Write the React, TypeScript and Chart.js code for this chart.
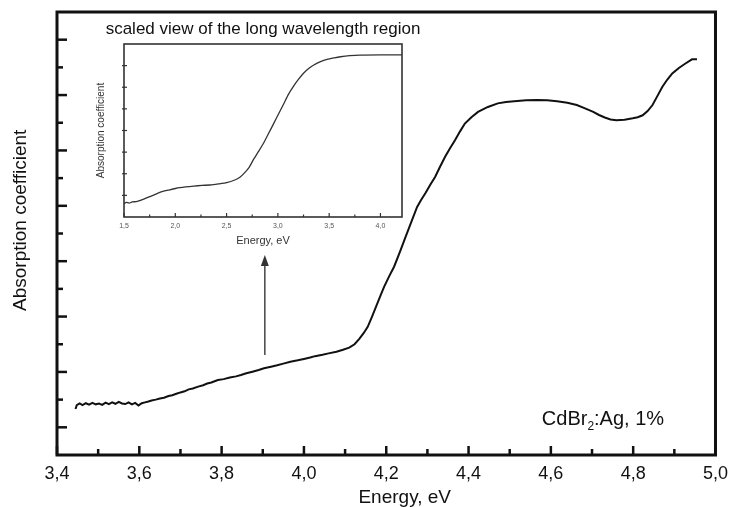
import React, { useEffect, useRef } from 'react';
import { Chart, registerables } from 'chart.js';

Chart.register(...registerables);

const FONT = '"Liberation Sans", Arial, Helvetica, sans-serif';

// ---------- main spectrum ----------
const mainEnergy = [
  3.445, 3.448, 3.455, 3.462, 3.47, 3.478, 3.486, 3.494, 3.502, 3.51, 3.518, 3.526, 3.534, 3.542,
  3.55, 3.558, 3.566, 3.574, 3.582, 3.59, 3.598, 3.606, 3.614, 3.622, 3.63, 3.64, 3.65, 3.66,
  3.671, 3.68, 3.69, 3.7, 3.71, 3.72, 3.73, 3.743, 3.755, 3.765, 3.775, 3.791, 3.805, 3.82,
  3.835, 3.847, 3.86, 3.875, 3.89, 3.903, 3.92, 3.935, 3.95, 3.967, 3.985, 4.0, 4.015, 4.027,
  4.045, 4.06, 4.079, 4.095, 4.11, 4.123, 4.135, 4.145, 4.155, 4.165, 4.175, 4.185, 4.195,
  4.207, 4.219, 4.233, 4.247, 4.261, 4.275, 4.285, 4.295, 4.307, 4.319, 4.331, 4.343, 4.355,
  4.367, 4.379, 4.391, 4.407, 4.423, 4.447, 4.471, 4.491, 4.511, 4.54, 4.567, 4.591, 4.615,
  4.64, 4.663, 4.683, 4.703, 4.717, 4.731, 4.745, 4.759, 4.779, 4.799, 4.811, 4.823, 4.835,
  4.847, 4.859, 4.871, 4.883, 4.895, 4.911, 4.927, 4.943, 4.955,
];
const mainAbsorption = [
  1.66, 1.8, 1.86, 1.8, 1.87, 1.82, 1.88, 1.83, 1.86, 1.81, 1.89, 1.84, 1.9, 1.85,
  1.92, 1.86, 1.84, 1.9, 1.83, 1.88, 1.79, 1.87, 1.9, 1.93, 1.97, 2.0, 2.04, 2.07,
  2.13, 2.16, 2.21, 2.26, 2.3, 2.37, 2.4, 2.47, 2.52, 2.58, 2.62, 2.71, 2.74, 2.8,
  2.84, 2.89, 2.95, 3.01, 3.07, 3.13, 3.19, 3.24, 3.3, 3.37, 3.42, 3.47, 3.52, 3.57,
  3.62, 3.67, 3.73, 3.8, 3.88, 4.0, 4.2, 4.4, 4.63, 4.98, 5.35, 5.72, 6.08,
  6.45, 6.8, 7.33, 7.88, 8.42, 8.96, 9.22, 9.45, 9.76, 10.05, 10.42, 10.77, 11.08,
  11.37, 11.68, 11.97, 12.2, 12.39, 12.57, 12.7, 12.75, 12.78, 12.81, 12.82, 12.81, 12.78,
  12.72, 12.64, 12.52, 12.39, 12.28, 12.19, 12.12, 12.09, 12.11, 12.16, 12.2, 12.27, 12.42,
  12.64, 12.97, 13.3, 13.56, 13.78, 13.98, 14.14, 14.29, 14.29,
];
const mainXTicks = [3.4, 3.6, 3.8, 4.0, 4.2, 4.4, 4.6, 4.8, 5.0];
const mainXMinor = [3.5, 3.7, 3.9, 4.1, 4.3, 4.5, 4.7, 4.9];
const mainYMajor = [1, 3, 5, 7, 9, 11, 13, 15];
const mainYMinor = [2, 4, 6, 8, 10, 12, 14];

// ---------- inset (long wavelength region) ----------
const insetEnergy = [
  1.5, 1.52, 1.55, 1.58, 1.62, 1.68, 1.75, 1.81, 1.87, 1.93, 2.01, 2.1, 2.18, 2.26, 2.34,
  2.42, 2.5, 2.58, 2.63, 2.67, 2.72, 2.76, 2.81, 2.86, 2.91, 2.96, 3.01, 3.06, 3.1, 3.15,
  3.2, 3.25, 3.3, 3.35, 3.41, 3.48, 3.55, 3.61, 3.7, 3.8, 4.0, 4.21,
];
const insetAbsorption = [
  0.6, 0.68, 0.64, 0.7, 0.71, 0.8, 0.94, 1.06, 1.17, 1.24, 1.33, 1.39, 1.43, 1.46, 1.48,
  1.53, 1.59, 1.71, 1.84, 2.02, 2.3, 2.64, 3.02, 3.41, 3.87, 4.33, 4.8, 5.26, 5.65, 6.03,
  6.36, 6.65, 6.87, 7.03, 7.17, 7.29, 7.36, 7.41, 7.46, 7.49, 7.5, 7.5,
];
const insetXTicks = [1.5, 2.0, 2.5, 3.0, 3.5, 4.0];
const insetXMinor = [1.75, 2.25, 2.75, 3.25, 3.75];
const insetYTicks = [1, 2, 3, 4, 5, 6, 7];

// ---------- annotations ----------
const sampleLabelParts = ['CdBr', '2', ':Ag, 1%'];
const sampleLabelAt = { x: 4.578, y: 1.08 };
const arrowAt = { x: 3.905, yFrom: 3.61, yTo: 7.22 };
const insetTitle = 'scaled view of the long wavelength region';

const commaFmt = (v: any) => Number(v).toFixed(1).replace('.', ',');

export default function App() {
  const mainRef = useRef<HTMLCanvasElement>(null);
  const insetRef = useRef<HTMLCanvasElement>(null);

  useEffect(() => {
    const mainPlugin = {
      id: 'mainFrame',
      afterDraw(chart: any) {
        const { ctx, chartArea: a, scales } = chart;
        const xs = scales.x;
        const ys = scales.y;
        ctx.save();
        ctx.strokeStyle = '#111';
        ctx.lineCap = 'butt';
        // ticks (inward)
        ctx.lineWidth = 2.5;
        mainXTicks.forEach((v) => {
          const p = xs.getPixelForValue(v);
          ctx.beginPath(); ctx.moveTo(p, a.bottom); ctx.lineTo(p, a.bottom - 9); ctx.stroke();
        });
        mainXMinor.forEach((v) => {
          const p = xs.getPixelForValue(v);
          ctx.beginPath(); ctx.moveTo(p, a.bottom); ctx.lineTo(p, a.bottom - 6); ctx.stroke();
        });
        mainYMajor.forEach((v) => {
          const p = ys.getPixelForValue(v);
          ctx.beginPath(); ctx.moveTo(a.left, p); ctx.lineTo(a.left + 10, p); ctx.stroke();
        });
        mainYMinor.forEach((v) => {
          const p = ys.getPixelForValue(v);
          ctx.beginPath(); ctx.moveTo(a.left, p); ctx.lineTo(a.left + 6, p); ctx.stroke();
        });
        // frame
        ctx.lineWidth = 3;
        ctx.strokeRect(a.left, a.top, a.right - a.left, a.bottom - a.top);

        // arrow
        const ax = xs.getPixelForValue(arrowAt.x);
        const ay0 = ys.getPixelForValue(arrowAt.yFrom);
        const ay1 = ys.getPixelForValue(arrowAt.yTo);
        ctx.strokeStyle = '#444';
        ctx.fillStyle = '#333';
        ctx.lineWidth = 1.5;
        ctx.beginPath(); ctx.moveTo(ax, ay0); ctx.lineTo(ax, ay1 + 9); ctx.stroke();
        ctx.beginPath();
        ctx.moveTo(ax, ay1);
        ctx.lineTo(ax - 4, ay1 + 11);
        ctx.lineTo(ax + 4, ay1 + 11);
        ctx.closePath();
        ctx.fill();

        // sample label
        const lx = xs.getPixelForValue(sampleLabelAt.x);
        const ly = ys.getPixelForValue(sampleLabelAt.y);
        ctx.fillStyle = '#111';
        ctx.textBaseline = 'alphabetic';
        ctx.textAlign = 'left';
        ctx.font = `20px ${FONT}`;
        ctx.fillText(sampleLabelParts[0], lx, ly);
        let cx = lx + ctx.measureText(sampleLabelParts[0]).width;
        ctx.font = `12px ${FONT}`;
        ctx.fillText(sampleLabelParts[1], cx, ly + 5);
        cx += ctx.measureText(sampleLabelParts[1]).width;
        ctx.font = `20px ${FONT}`;
        ctx.fillText(sampleLabelParts[2], cx, ly);
        ctx.restore();
      },
    };

    const main = new Chart(mainRef.current as HTMLCanvasElement, {
      type: 'line',
      data: {
        datasets: [
          {
            data: mainEnergy.map((x, i) => ({ x, y: mainAbsorption[i] })),
            borderColor: '#111',
            borderWidth: 2,
            pointRadius: 0,
            tension: 0,
            fill: false,
          },
        ],
      },
      options: {
        animation: false,
        responsive: false,
        devicePixelRatio: 1,
        layout: { padding: { left: 0, top: 12, right: 13, bottom: 0 } },
        plugins: { legend: { display: false }, tooltip: { enabled: false }, title: { display: false } },
        scales: {
          x: {
            type: 'linear',
            min: 3.4,
            max: 5.0,
            afterBuildTicks: (s: any) => {
              s.ticks = mainXTicks.map((v) => ({ value: v }));
            },
            afterFit: (s: any) => {
              s.height = 52;
            },
            ticks: {
              autoSkip: false,
              maxRotation: 0,
              padding: 8,
              color: '#111',
              font: { family: FONT, size: 18 },
              callback: commaFmt,
            },
            grid: { display: false, drawTicks: false },
            border: { display: false },
            title: {
              display: true,
              text: '       Energy, eV',
              color: '#111',
              font: { family: FONT, size: 19, lineHeight: 0.95 },
              padding: 0,
            },
          },
          y: {
            type: 'linear',
            min: 0,
            max: 16,
            afterFit: (s: any) => {
              s.width = 57;
            },
            ticks: { display: false },
            grid: { display: false, drawTicks: false },
            border: { display: false },
            title: {
              display: true,
              text: '     Absorption coefficient',
              color: '#111',
              font: { family: FONT, size: 19 },
              padding: { top: 9.6, bottom: 0 },
            },
          },
        },
      },
      plugins: [mainPlugin],
    } as any);

    const insetPlugin = {
      id: 'insetFrame',
      afterDraw(chart: any) {
        const { ctx, chartArea: a, scales } = chart;
        const xs = scales.x;
        const ys = scales.y;
        ctx.save();
        ctx.strokeStyle = '#333';
        ctx.lineWidth = 1.2;
        insetXTicks.forEach((v) => {
          const p = xs.getPixelForValue(v);
          ctx.beginPath(); ctx.moveTo(p, a.bottom); ctx.lineTo(p, a.bottom - 4); ctx.stroke();
        });
        insetXMinor.forEach((v) => {
          const p = xs.getPixelForValue(v);
          ctx.beginPath(); ctx.moveTo(p, a.bottom); ctx.lineTo(p, a.bottom - 2.5); ctx.stroke();
        });
        insetYTicks.forEach((v) => {
          const p = ys.getPixelForValue(v);
          ctx.beginPath(); ctx.moveTo(a.left - 2, p); ctx.lineTo(a.left + 3, p); ctx.stroke();
        });
        ctx.lineWidth = 1.6;
        ctx.strokeRect(a.left, a.top, a.right - a.left, a.bottom - a.top);

        ctx.fillStyle = '#111';
        ctx.font = `17px ${FONT}`;
        ctx.textAlign = 'center';
        ctx.textBaseline = 'middle';
        ctx.fillText(insetTitle, (a.left + a.right) / 2, 15);
        ctx.restore();
      },
    };

    const inset = new Chart(insetRef.current as HTMLCanvasElement, {
      type: 'line',
      data: {
        datasets: [
          {
            data: insetEnergy.map((x, i) => ({ x, y: insetAbsorption[i] })),
            borderColor: '#333',
            borderWidth: 1.3,
            pointRadius: 0,
            tension: 0.2,
            fill: false,
          },
        ],
      },
      options: {
        animation: false,
        responsive: false,
        devicePixelRatio: 1,
        layout: { padding: { left: 0, top: 30, right: 34, bottom: 0 } },
        plugins: { legend: { display: false }, tooltip: { enabled: false }, title: { display: false } },
        scales: {
          x: {
            type: 'linear',
            min: 1.5,
            max: 4.21,
            afterBuildTicks: (s: any) => {
              s.ticks = insetXTicks.map((v) => ({ value: v }));
            },
            afterFit: (s: any) => {
              s.height = 37;
            },
            ticks: {
              autoSkip: false,
              maxRotation: 0,
              padding: 5,
              color: '#555',
              font: { family: FONT, size: 7 },
              callback: commaFmt,
            },
            grid: { display: false, drawTicks: false },
            border: { display: false },
            title: {
              display: true,
              text: 'Energy, eV',
              color: '#333',
              font: { family: FONT, size: 11 },
              padding: { top: 0, bottom: 6.4 },
            },
          },
          y: {
            type: 'linear',
            min: 0,
            max: 8,
            afterFit: (s: any) => {
              s.width = 34;
            },
            ticks: { display: false },
            grid: { display: false, drawTicks: false },
            border: { display: false },
            title: {
              display: true,
              text: 'Absorption coefficient',
              color: '#333',
              font: { family: FONT, size: 10 },
              padding: { top: 5, bottom: 0 },
            },
          },
        },
      },
      plugins: [insetPlugin],
    } as any);

    return () => {
      main.destroy();
      inset.destroy();
    };
  }, []);

  return (
    <div style={{ position: 'fixed', left: 0, top: 0, width: 736, height: 507, background: '#fff', overflow: 'hidden' }}>
      <canvas ref={mainRef} width={736} height={507} style={{ position: 'absolute', left: 0, top: 0 }} />
      <canvas ref={insetRef} width={346} height={240} style={{ position: 'absolute', left: 90, top: 14 }} />
    </div>
  );
}
